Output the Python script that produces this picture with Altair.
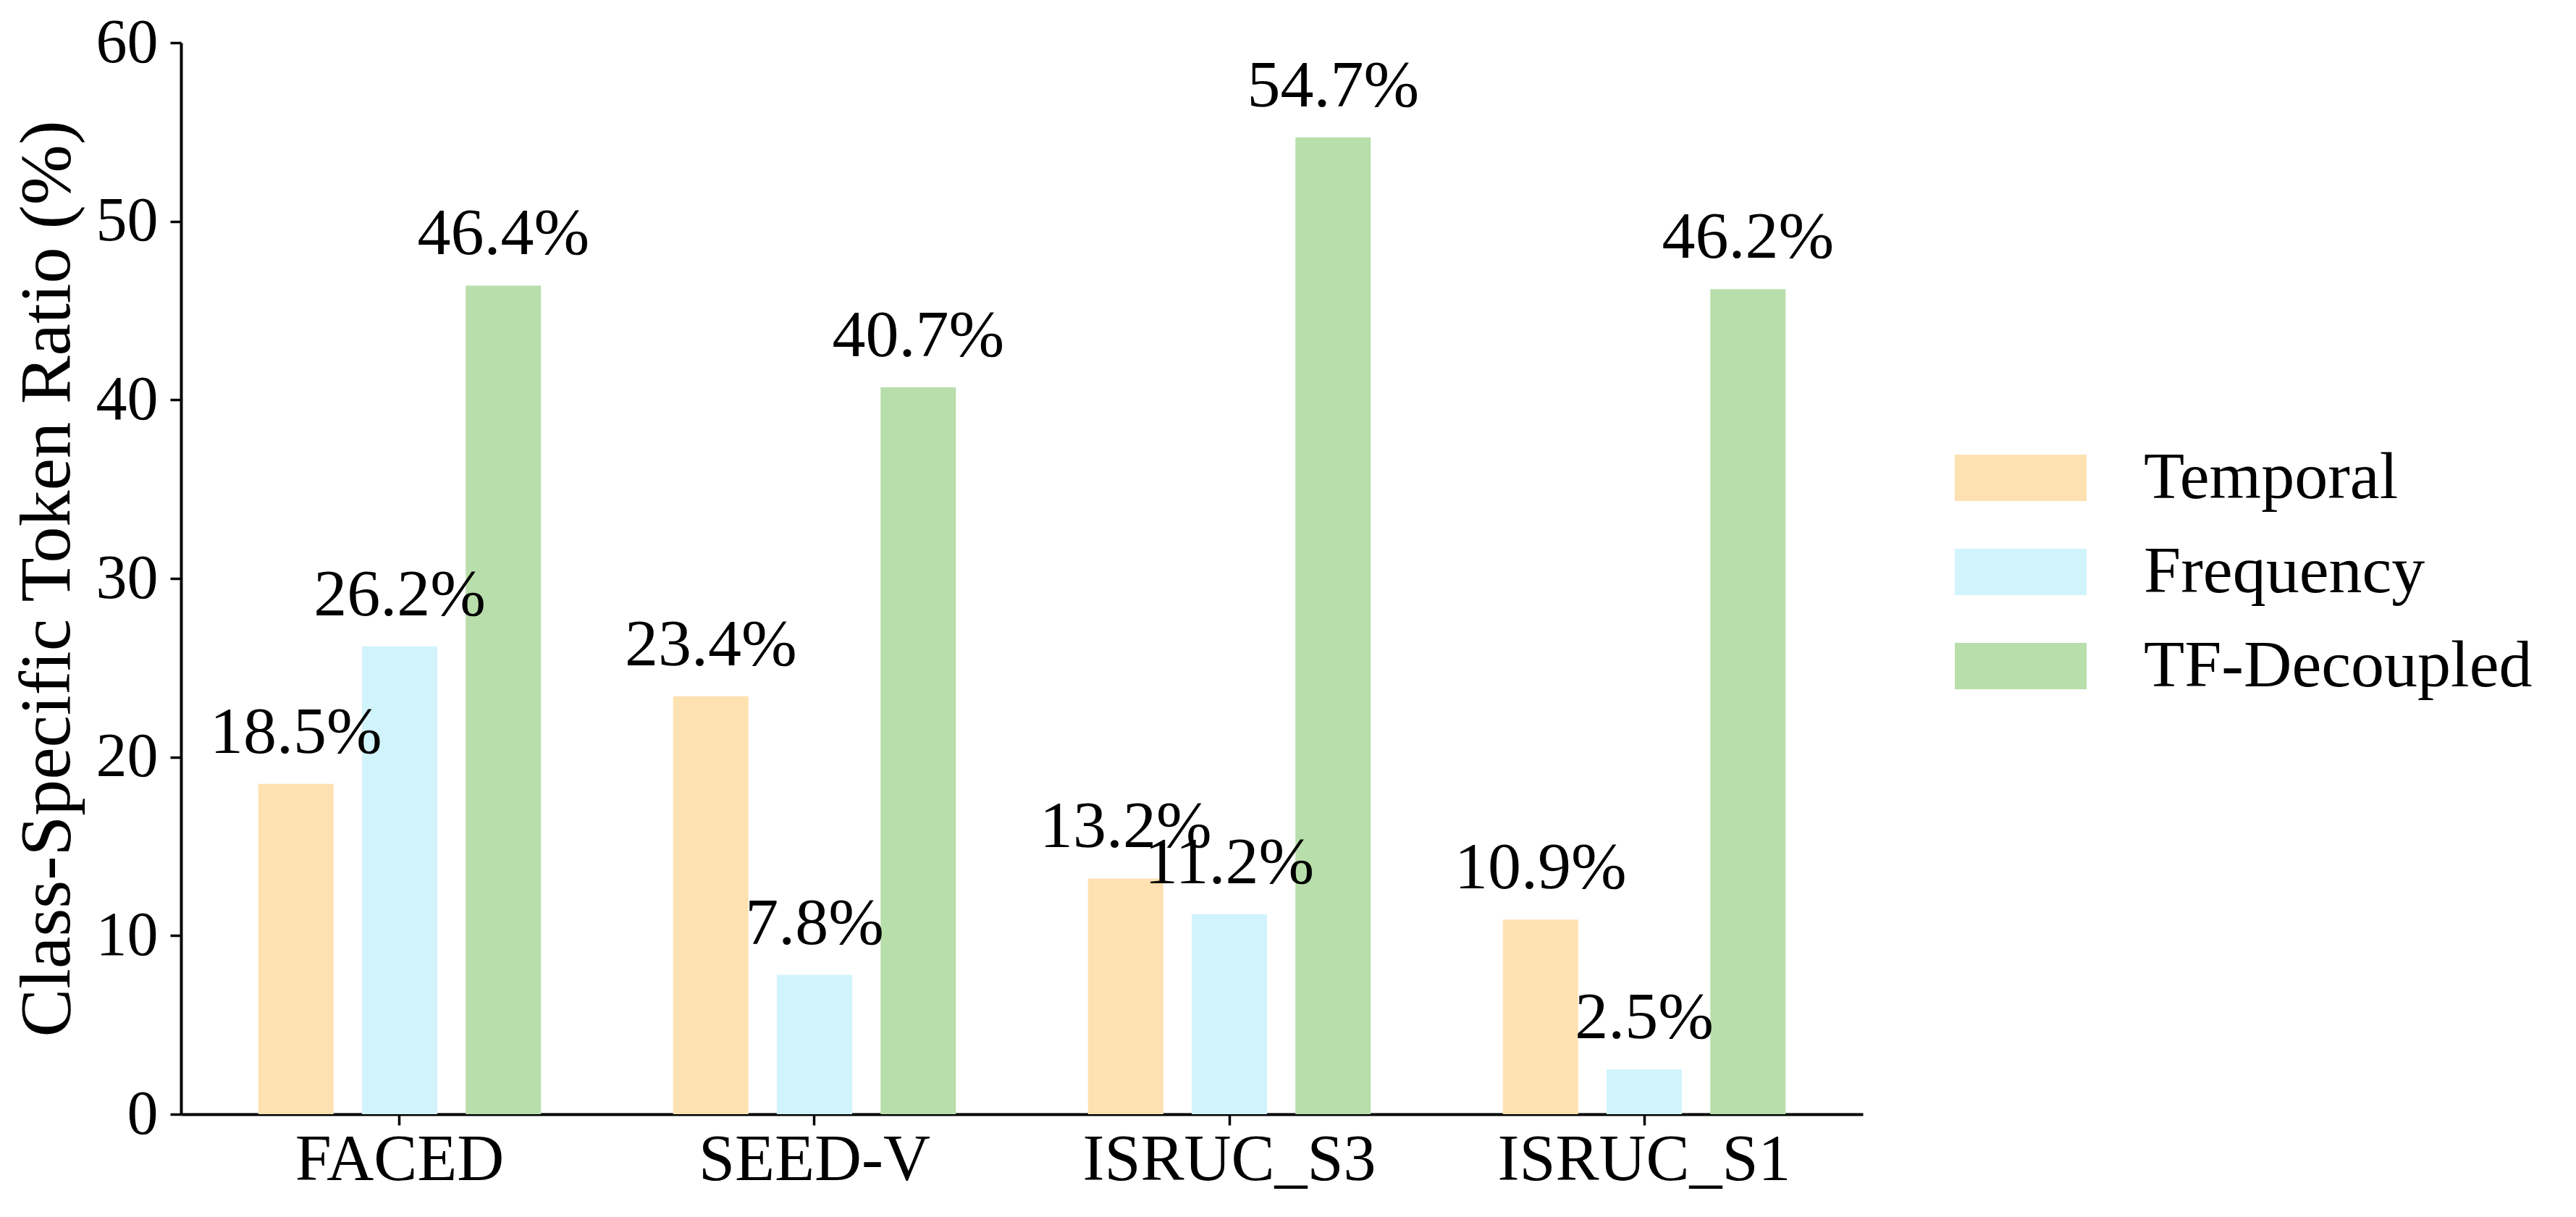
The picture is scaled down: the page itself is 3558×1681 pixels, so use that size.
import altair as alt
import pandas as pd

datasets = ["FACED", "SEED-V", "ISRUC_S3", "ISRUC_S1"]
series = ["Temporal", "Frequency", "TF-Decoupled"]
temporal = [18.5, 23.4, 13.2, 10.9]
frequency = [26.2, 7.8, 11.2, 2.5]
tf_decoupled = [46.4, 40.7, 54.7, 46.2]
colors = ["#FDE1B1", "#D1F3FC", "#B8DEAB"]

rows = []
for i, d in enumerate(datasets):
    for s, vals in zip(series, [temporal, frequency, tf_decoupled]):
        rows.append({"dataset": d, "series": s, "value": vals[i]})
df = pd.DataFrame(rows)

FONT = "Liberation Serif"

x_enc = alt.X("dataset:N", sort=datasets,
              scale=alt.Scale(paddingInner=0.25, paddingOuter=0.152),
              axis=alt.Axis(title=None, labelAngle=0, labelFontSize=90,
                            labelPadding=4, tickSize=15, tickWidth=3.5,
                            domainWidth=4, labelFont=FONT, labelLimit=1000))
xoff_enc = alt.XOffset("series:N", sort=series,
                       scale=alt.Scale(paddingInner=0.274, paddingOuter=0.137))
y_enc = alt.Y("value:Q", scale=alt.Scale(domain=[0, 60], nice=False),
              axis=alt.Axis(title="Class-Specific Token Ratio (%)", values=[0, 10, 20, 30, 40, 50, 60],
                            grid=False, labelFontSize=86, labelPadding=17,
                            tickSize=15, tickWidth=3.5, domainWidth=4,
                            titleFontSize=100, titleFontWeight="normal",
                            titlePadding=16, labelFont=FONT, titleFont=FONT,
                            titleLimit=2000))

legend = alt.Legend(title=None, orient="none", legendX=2450, legendY=536,
                    symbolType="M-1,-0.352L1,-0.352L1,0.352L-1,0.352Z",
                    symbolSize=33124, symbolStrokeWidth=0, symbolOpacity=1,
                    labelFontSize=92, labelFont=FONT, labelOffset=79,
                    clipHeight=130, rowPadding=0, padding=0, labelLimit=1000)

bars = alt.Chart(df).mark_bar(opacity=1).encode(
    x=x_enc,
    xOffset=xoff_enc,
    y=y_enc,
    color=alt.Color("series:N", sort=series,
                    scale=alt.Scale(domain=series, range=colors), legend=legend),
)

labels = alt.Chart(df).transform_calculate(
    label="format(datum.value, '.1f') + '%'"
).mark_text(font=FONT, fontSize=92, baseline="alphabetic", dy=-43, color="black").encode(
    x=alt.X("dataset:N", sort=datasets),
    xOffset=alt.XOffset("series:N", sort=series),
    y=alt.Y("value:Q"),
    text="label:N",
)

chart = alt.layer(bars, labels).properties(
    width=2323, height=1480,
    autosize=alt.AutoSizeParams(type="none"),
    padding={"left": 242, "top": 51, "right": 977, "bottom": 130},
).configure_view(stroke=None).configure_axis(
    domainColor="black", tickColor="black", labelColor="black", titleColor="black"
)

chart.save("out.html", embed_options={"renderer": "svg", "actions": False})
